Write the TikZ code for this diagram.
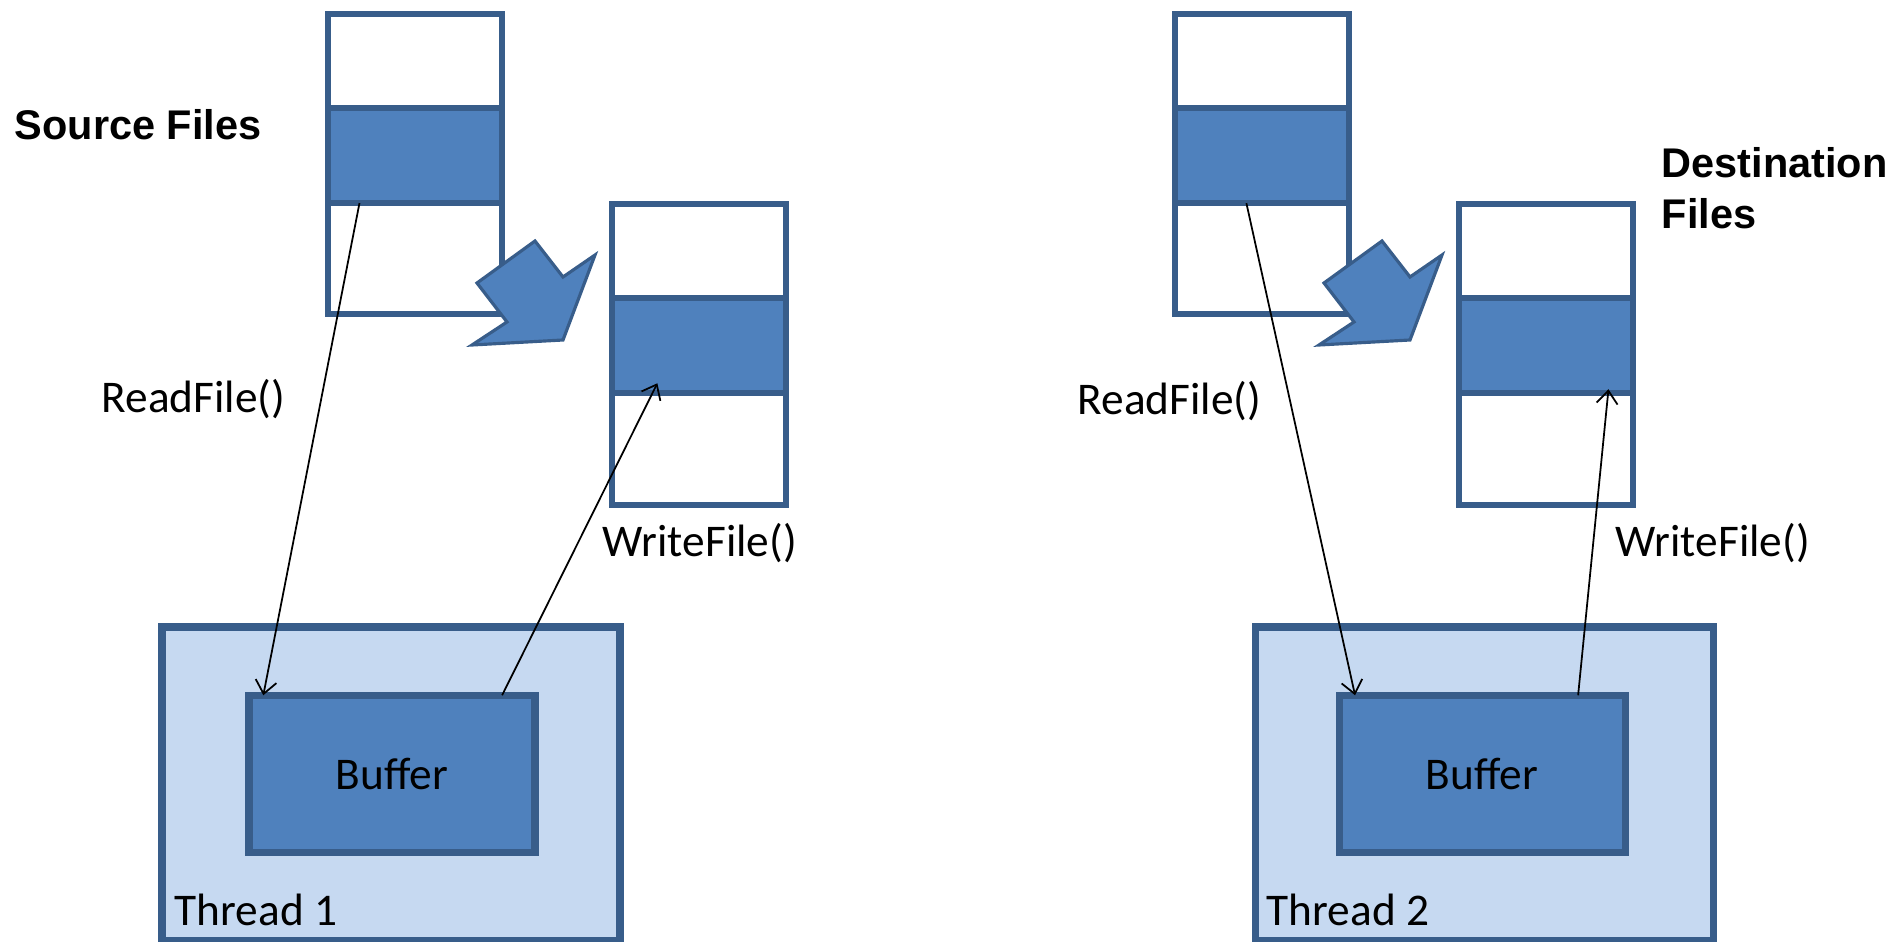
\documentclass[tikz,border=0pt]{standalone}
\usepackage{fontspec}
\setmainfont{Carlito}
\newfontfamily\headfont{Liberation Sans}
\usetikzlibrary{positioning, calc, arrows.meta}
\definecolor{fileEdge}{HTML}{385D8A}
\definecolor{fileBlue}{HTML}{4F81BD}
\definecolor{threadFill}{HTML}{C6D9F1}

\begin{document}
\begin{tikzpicture}[
    cell/.style={rectangle, draw=fileEdge, fill=white, line width=1.8pt,
                 minimum width=1.735cm, inner sep=0pt, outer sep=0pt},
    filled/.style={cell, fill=fileBlue},
    thread/.style={rectangle, draw=fileEdge, fill=threadFill, line width=2pt,
                   minimum width=4.58cm, minimum height=3.14cm, outer sep=0pt},
    buffer/.style={rectangle, draw=fileEdge, fill=fileBlue, line width=2pt,
                   minimum width=2.86cm, minimum height=1.575cm, outer sep=0pt,
                   font=\fontsize{12.9}{15}\selectfont},
    call/.style={font=\fontsize{12.9}{15}\selectfont, inner sep=0pt},
    head/.style={font=\headfont\bfseries\fontsize{11.8}{14.5}\selectfont,
                 align=left, inner sep=0pt},
    arrow/.style={-{Straight Barb[length=3.7pt, width=6pt]}, line width=0.5pt},
    bigarrow/.style={draw=fileEdge, fill=fileBlue, line width=0.9pt},
  ]
    \useasboundingbox (0,0) rectangle (18.97,-9.42);

    % Threads and buffers
    \node[thread] (THR1) at (3.91,-7.84) {};
    \node[thread] (THR2) at (14.84,-7.84) {};
    \node[buffer] (BUF1) at (3.92,-7.74) {Buffer};
    \node[buffer] (BUF2) at (14.82,-7.74) {Buffer};

    % Source files
    \node[cell, minimum height=0.943cm] (SRC1a) at (4.15,-0.61) {};
    \node[filled, minimum height=0.95cm, below=0cm of SRC1a] (SRC1b) {};
    \node[cell, minimum height=1.11cm, below=0cm of SRC1b] (SRC1c) {};

    \node[cell, minimum height=0.943cm] (SRC2a) at (12.62,-0.61) {};
    \node[filled, minimum height=0.95cm, below=0cm of SRC2a] (SRC2b) {};
    \node[cell, minimum height=1.11cm, below=0cm of SRC2b] (SRC2c) {};

    % Destination files
    \node[cell, minimum height=0.945cm] (DST1a) at (6.99,-2.51) {};
    \node[filled, minimum height=0.95cm, below=0cm of DST1a] (DST1b) {};
    \node[cell, minimum height=1.12cm, below=0cm of DST1b] (DST1c) {};

    \node[cell, minimum height=0.945cm] (DST2a) at (15.46,-2.51) {};
    \node[filled, minimum height=0.95cm, below=0cm of DST2a] (DST2b) {};
    \node[cell, minimum height=1.12cm, below=0cm of DST2b] (DST2c) {};

    % Copy arrows
    \draw[bigarrow] (4.77,-2.83) -- (5.35,-2.41) -- (5.63,-2.77) -- (5.95,-2.55)
        -- (5.63,-3.40) -- (4.72,-3.45) -- (5.07,-3.22) -- cycle;
    \draw[bigarrow, xshift=8.47cm] (4.77,-2.83) -- (5.35,-2.41) -- (5.63,-2.77) -- (5.95,-2.55)
        -- (5.63,-3.40) -- (4.72,-3.45) -- (5.07,-3.22) -- cycle;

    % Calls
    \draw[arrow] ($(SRC1b.south west)!0.18!(SRC1b.south east)$)
        -- ($(BUF1.north west)!0.05!(BUF1.north east)$);
    \draw[arrow] ($(BUF1.north west)!0.885!(BUF1.north east)$)
        -- ($(DST1b.south west)!0.26!(DST1b.south east)+(0,0.1)$);
    \draw[arrow] ($(SRC2b.south west)!0.41!(SRC2b.south east)$)
        -- ($(BUF2.north west)!0.056!(BUF2.north east)$);
    \draw[arrow] ($(BUF2.north west)!0.836!(BUF2.north east)$)
        -- ($(DST2b.south west)!0.86!(DST2b.south east)+(0,0.04)$);

    % Labels
    \node[head, anchor=base west] (SRCLBL) at (0.14,-1.40) {Source Files};
    \node[head, anchor=north west] (DSTLBL) at (16.61,-1.47) {Destination\\Files};
    \node[call, anchor=base west] (RD1) at (1.01,-4.13) {ReadFile()};
    \node[call, anchor=base west] (WR1) at (6.02,-5.57) {WriteFile()};
    \node[call, anchor=base west] (RD2) at (10.77,-4.15) {ReadFile()};
    \node[call, anchor=base west] (WR2) at (16.15,-5.57) {WriteFile()};
    \node[call, anchor=base west] (THR1LBL) at ($(THR1.south west)+(0.12,0.16)$) {Thread 1};
    \node[call, anchor=base west] (THR2LBL) at ($(THR2.south west)+(0.11,0.16)$) {Thread 2};
  \end{tikzpicture}
\end{document}
